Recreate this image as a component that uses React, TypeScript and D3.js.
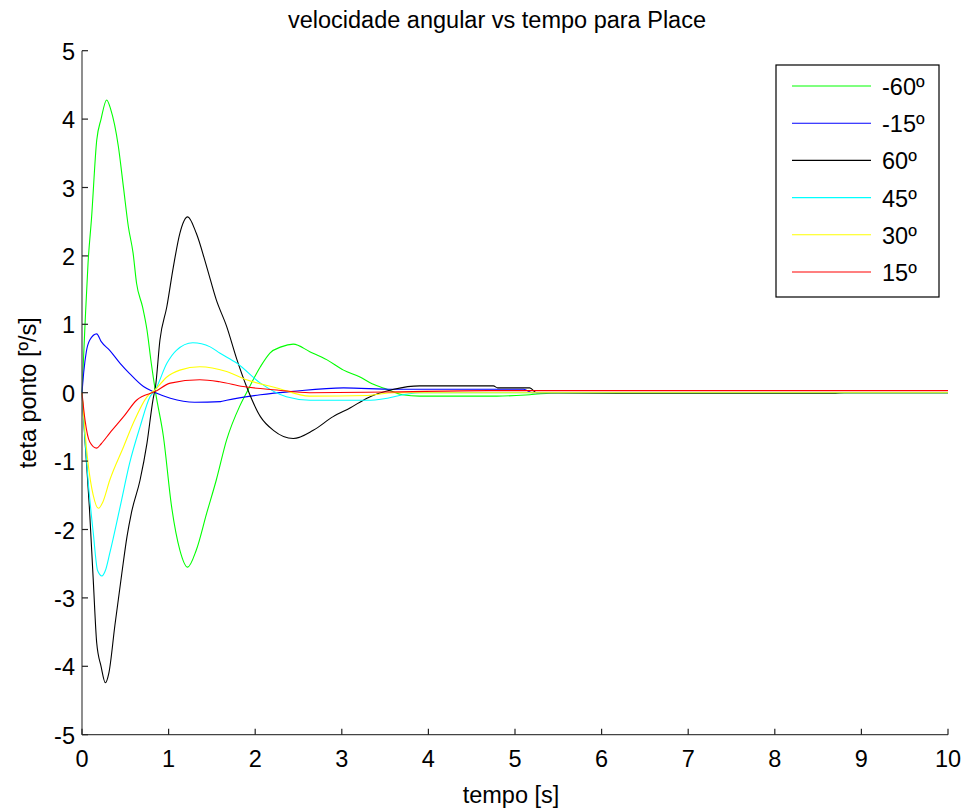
import React from "react";
import * as d3 from "d3";

const xTicks = [0, 1, 2, 3, 4, 5, 6, 7, 8, 9, 10];
const yTicks = [-5, -4, -3, -2, -1, 0, 1, 2, 3, 4, 5];

const seriesNames = ["-60º", "-15º", "60º", "45º", "30º", "15º"];
const seriesColors = ["#00ff00", "#0000ff", "#000000", "#00ffff", "#ffff00", "#ff0000"];

const green: [number, number][] = [
  [0, 0], [0.035, 1.0], [0.07, 1.9], [0.11, 2.55], [0.17, 3.69], [0.22, 4.0], [0.285, 4.28], [0.33, 4.15],
  [0.42, 3.6], [0.48, 2.99], [0.535, 2.43], [0.59, 2.04], [0.63, 1.6], [0.7, 1.25], [0.75, 0.92], [0.8, 0.43],
  [0.85, 0.0], [0.94, -0.64], [1.035, -1.67], [1.13, -2.3], [1.22, -2.55], [1.32, -2.3], [1.44, -1.76],
  [1.55, -1.28], [1.67, -0.69], [1.82, -0.2], [1.9, 0.0], [2.06, 0.38], [2.17, 0.58], [2.3, 0.67], [2.44, 0.71],
  [2.63, 0.6], [2.83, 0.48], [3.02, 0.33], [3.21, 0.23], [3.35, 0.13], [3.52, 0.05], [3.7, -0.03], [3.9, -0.05],
  [4.79, -0.05], [5.17, -0.03], [5.5, 0], [10, 0],
];
const blue: [number, number][] = [
  [0, 0], [0.02, 0.3], [0.05, 0.6], [0.09, 0.77], [0.17, 0.86], [0.22, 0.75], [0.32, 0.62], [0.44, 0.43],
  [0.55, 0.28], [0.71, 0.09], [0.85, 0], [1.02, -0.08], [1.3, -0.14], [1.6, -0.13], [1.67, -0.11], [2.06, -0.03],
  [2.44, 0.02], [3.02, 0.07], [3.6, 0.05], [5.1, 0.05], [5.2, 0], [10, 0],
];
const black: [number, number][] = [
  [0, 0], [0.04, -0.8], [0.085, -1.67], [0.13, -2.74], [0.17, -3.66], [0.22, -4.0], [0.27, -4.24], [0.31, -4.1],
  [0.38, -3.4], [0.46, -2.64], [0.52, -2.1], [0.57, -1.76], [0.67, -1.28], [0.75, -0.74], [0.82, -0.1],
  [0.85, 0.1], [0.9, 0.77], [0.98, 1.26], [1.055, 1.84], [1.13, 2.33], [1.22, 2.57], [1.32, 2.33], [1.44, 1.84],
  [1.55, 1.36], [1.67, 0.97], [1.79, 0.48], [1.9, 0.09], [2.06, -0.35], [2.21, -0.55], [2.44, -0.67],
  [2.67, -0.55], [2.9, -0.35], [3.1, -0.22], [3.29, -0.08], [3.6, 0.05], [3.9, 0.1], [4.75, 0.1], [4.8, 0.07],
  [5.17, 0.07], [5.25, 0], [6.2, -0.01], [8.7, -0.01], [8.8, 0], [10, 0],
];
const cyan: [number, number][] = [
  [0, 0], [0.03, -0.6], [0.07, -1.28], [0.13, -2.05], [0.18, -2.6], [0.23, -2.68], [0.27, -2.6], [0.32, -2.35],
  [0.44, -1.67], [0.55, -1.03], [0.67, -0.5], [0.785, -0.06], [0.85, 0.05], [0.98, 0.43], [1.09, 0.62],
  [1.28, 0.73], [1.48, 0.67], [1.59, 0.58], [1.79, 0.43], [2.06, 0.14], [2.36, -0.06], [2.63, -0.11],
  [3.33, -0.11], [3.9, 0], [10, 0],
];
const yellow: [number, number][] = [
  [0, 0], [0.03, -0.5], [0.07, -1.03], [0.13, -1.5], [0.19, -1.69], [0.24, -1.6], [0.32, -1.28], [0.48, -0.79],
  [0.59, -0.45], [0.75, -0.06], [0.85, 0.05], [0.98, 0.23], [1.13, 0.33], [1.36, 0.38], [1.67, 0.31],
  [1.9, 0.19], [2.25, 0.07], [2.63, -0.05], [3.3, -0.04], [3.6, 0], [10, 0],
];
const red: [number, number][] = [
  [0, 0], [0.035, -0.4], [0.09, -0.72], [0.17, -0.81], [0.22, -0.75], [0.32, -0.59], [0.48, -0.35],
  [0.63, -0.11], [0.85, 0.02], [1.02, 0.14], [1.36, 0.19], [1.59, 0.16], [1.86, 0.09], [2.25, 0.04],
  [2.63, 0], [3.5, 0.01], [4.7, 0.03], [10, 0.03],
];

const seriesData = [green, blue, black, cyan, yellow, red];

const W = 970;
const H = 812;
const left = 82;
const right = 948;
const top = 50.7;
const bottom = 734.7;
const FONT = "'Liberation Sans', Arial, sans-serif";
const FS = 23.5;

export default function App() {
  const x = d3.scaleLinear().domain([0, 10]).range([left, right]);
  const y = d3.scaleLinear().domain([-5, 5]).range([bottom, top]);
  const line = d3
    .line<[number, number]>()
    .x((d) => x(d[0]))
    .y((d) => y(d[1]))
    .curve(d3.curveMonotoneX);

  const legX = 776;
  const legY = 65;
  const legW = 163;
  const legH = 232;
  const rowY0 = 86;
  const rowStep = 37.2;

  return (
    <svg
      width={W}
      height={H}
      style={{ position: "absolute", left: 0, top: 0, background: "#fff", fontFamily: FONT }}
    >
      <rect x={0} y={0} width={W} height={H} fill="#fff" />
      {seriesData.map((d, i) => (
        <path key={i} d={line(d) || ""} fill="none" stroke={seriesColors[i]} strokeWidth={1.1} />
      ))}
      {/* axes */}
      <line x1={left} y1={top} x2={left} y2={bottom} stroke="#444" strokeWidth={1.2} />
      <line x1={left} y1={bottom} x2={right} y2={bottom} stroke="#444" strokeWidth={1.2} />
      {yTicks.map((t) => (
        <g key={"y" + t}>
          <line x1={left} x2={left + 6} y1={y(t)} y2={y(t)} stroke="#222" strokeWidth={1.2} />
          <text x={75} y={y(t) + 9} fontSize={FS} textAnchor="end" fill="#000">
            {t}
          </text>
        </g>
      ))}
      {xTicks.map((t) => (
        <g key={"x" + t}>
          <line x1={x(t)} x2={x(t)} y1={bottom} y2={bottom - 6} stroke="#222" strokeWidth={1.2} />
          <text x={x(t)} y={767} fontSize={FS} textAnchor="middle" fill="#000">
            {t}
          </text>
        </g>
      ))}
      <text x={497} y={28} fontSize={FS} textAnchor="middle" fill="#000">
        velocidade angular vs tempo para Place
      </text>
      <text x={511} y={803} fontSize={FS} textAnchor="middle" fill="#000">
        tempo [s]
      </text>
      <text
        transform={`translate(36, ${(top + bottom) / 2}) rotate(-90)`}
        fontSize={FS}
        textAnchor="middle"
        fill="#000"
      >
        teta ponto [º/s]
      </text>
      {/* legend */}
      <rect x={legX} y={legY} width={legW} height={legH} fill="#fff" stroke="#000" strokeWidth={1.2} />
      {seriesNames.map((n, i) => (
        <g key={n}>
          <line
            x1={792}
            x2={871}
            y1={rowY0 + i * rowStep}
            y2={rowY0 + i * rowStep}
            stroke={seriesColors[i]}
            strokeWidth={1.1}
          />
          <text x={882} y={rowY0 + i * rowStep + 9} fontSize={FS} fill="#000">
            {n}
          </text>
        </g>
      ))}
    </svg>
  );
}
